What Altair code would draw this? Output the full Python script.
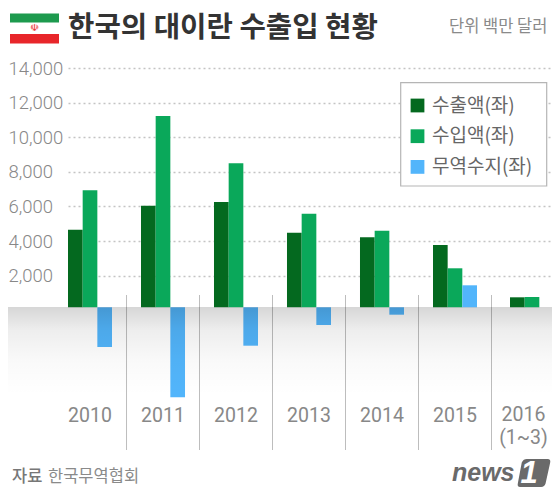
import altair as alt
import pandas as pd

years = ["2010", "2011", "2012", "2013", "2014", "2015", "2016"]
year_labels = ["2010", "2011", "2012", "2013", "2014", "2015", "2016\n(1~3)"]
series = ["수출액(좌)", "수입액(좌)", "무역수지(좌)"]
colors = ["#04691f", "#0aa85a", "#52b5fb"]
exports = [4660, 6046, 6260, 4485, 4219, 3774, 751]
imports = [6936, 11230, 8497, 5583, 4600, 2428, 769]
balance = [-2121, -5029, -2046, -850, -254, 1445, None]
y_ticks = [2000, 4000, 6000, 8000, 10000, 12000, 14000]

KR = "Noto Sans CJK KR"
LEFT = 57   # page x of plot area
TOP = 8

rows = []
for i, y in enumerate(years):
    for s, vals in zip(series, [exports, imports, balance]):
        if vals[i] is not None:
            rows.append({"year": y, "series": s, "value": vals[i]})
df = pd.DataFrame(rows)
labels_df = pd.DataFrame({"year": years, "label": year_labels})
one = pd.DataFrame({"a": [0]})

x_scale = alt.Scale(type="band", domain=years, range=[11, 493], paddingInner=0.397, paddingOuter=0)
x_scale_last = alt.Scale(type="band", domain=years, range=[15, 497], paddingInner=0.397, paddingOuter=0)
y_scale = alt.Scale(domain=[-10329, 17473], nice=False, zero=False)


def bar_layer(data, scale):
    return alt.Chart(data).mark_bar().encode(
        x=alt.X("year:N", scale=scale, axis=None),
        xOffset=alt.XOffset("series:N", sort=series,
                            scale=alt.Scale(domain=series, paddingInner=0, paddingOuter=0)),
        y=alt.Y("value:Q", scale=y_scale, stack=None,
                axis=alt.Axis(values=y_ticks, format=",d", title=None, domain=False, ticks=False,
                              labelAlign="left", labelPadding=49, labelFontSize=18.5, labelFont="Roboto",
                              labelFontWeight=300, labelColor="#888888", grid=True, gridColor="#c4c4c4",
                              gridDash=[2, 3], gridWidth=1.3, labelBaseline="middle")),
        y2=alt.datum(175),
        color=alt.Color("series:N", sort=series, scale=alt.Scale(domain=series, range=colors),
                        legend=alt.Legend(orient="none", legendX=351, legendY=88, title=None,
                                          padding=0, symbolType="square", symbolSize=190, symbolStrokeWidth=0,
                                          labelFont=KR, labelFontSize=19, labelColor="#666666",
                                          labelOffset=5, rowPadding=10.7, labelLimit=200, zindex=1)),
    )


def rect(px0, py0, px1, py1, color, **kw):
    return alt.Chart(one).mark_rect(color=color, **kw).encode(
        x=alt.value(px0 - LEFT), x2=alt.value(px1 - LEFT),
        y=alt.value(py0 - TOP), y2=alt.value(py1 - TOP))


def text(s, px, py, size, color, weight=400, font=KR, align="left", **kw):
    return alt.Chart(one).mark_text(text=s, font=font, fontSize=size, color=color, fontWeight=weight,
                                    align=align, baseline="middle", **kw).encode(
        x=alt.value(px - LEFT), y=alt.value(py - TOP))


dividers = alt.Chart(labels_df[labels_df.year != "2016"]).mark_rule(color="#bdbdbd", strokeWidth=1, xOffset=14.5).encode(
    x=alt.X("year:N", scale=x_scale, axis=None, bandPosition=1),
    y=alt.value(295 - TOP), y2=alt.value(450 - TOP))

shade = rect(0, 307, 560, 395, alt.Gradient(
    gradient="linear", x1=0, x2=0, y1=0, y2=1,
    stops=[alt.GradientStop(offset=0, color="rgba(0,0,0,0.16)"),
           alt.GradientStop(offset=0.25, color="rgba(0,0,0,0.07)"),
           alt.GradientStop(offset=0.6, color="rgba(0,0,0,0.025)"),
           alt.GradientStop(offset=1, color="rgba(0,0,0,0)")]))

year_text = alt.Chart(labels_df[labels_df.year != "2016"]).mark_text(
    font="Roboto", fontSize=19.5, fontWeight=400, color="#888888", baseline="middle").encode(
    x=alt.X("year:N", scale=x_scale, axis=None, bandPosition=0.5),
    y=alt.value(416 - TOP), text="label:N")
year_2016 = alt.Chart(labels_df[labels_df.year == "2016"]).mark_text(
    font="Roboto", fontSize=19.5, fontWeight=400, color="#888888", baseline="top", lineBreak="\n",
    lineHeight=23, dx=-4.5).encode(
    x=alt.X("year:N", scale=x_scale, axis=None, bandPosition=0.5),
    y=alt.value(406 - TOP), text="label:N")

logo_path = ("M -0.72 -0.62 Q -0.62 -0.82 -0.42 -0.82 L 0.8 -0.82 Q 1 -0.82 0.95 -0.6 "
             "L 0.68 0.62 Q 0.62 0.82 0.42 0.82 L -0.82 0.82 Q -1 0.82 -0.95 0.6 Z")
logo_box = alt.Chart(one).mark_point(shape=logo_path, filled=True, color="#6a6a6a", size=1156, opacity=1).encode(
    x=alt.value(534 - LEFT), y=alt.value(473 - TOP))

chart = alt.layer(
    rect(400.7, 82.7, 546.7, 186, "#ffffff", stroke="#b5b5b5", strokeWidth=1.2),
    bar_layer(df[df.year != "2016"], x_scale),
    bar_layer(df[df.year == "2016"], x_scale_last),
    dividers,
    shade,
    year_text,
    year_2016,
    rect(10, 13.5, 59, 43.5, "#ffffff"),
    rect(10, 13.5, 59, 22.5, "#1d9a4e"),
    rect(10, 34, 59, 43.5, "#e8262a"),
    text("☫", 34.5, 28, 10, "#e8262a", font="DejaVu Sans", align="center"),
    text("한국의 대이란 수출입 현황", 68, 28, 28.7, "#333333", weight=700),
    text("단위 백만 달러", 449, 27, 16.5, "#8a8a8a"),
    text("자료", 12, 477, 16.5, "#777777", weight=500),
    text("한국무역협회", 48, 477, 16.5, "#8a8a8a"),
    text("news", 452, 473, 25, "#6a6a6a", weight=900, font="Liberation Sans", fontStyle="italic"),
    logo_box,
    text("1", 529, 474, 31, "#ffffff", weight=700, font="Liberation Sans", fontStyle="italic", align="center"),
).resolve_scale(y="shared", x="independent", color="shared").properties(
    width=495, height=481, padding={"left": 49, "top": 0, "right": 0, "bottom": 0},
    autosize=alt.AutoSizeParams(type="none"),
).configure_view(stroke=None)

chart.save("out.html", embed_options={"renderer": "svg", "actions": False})
